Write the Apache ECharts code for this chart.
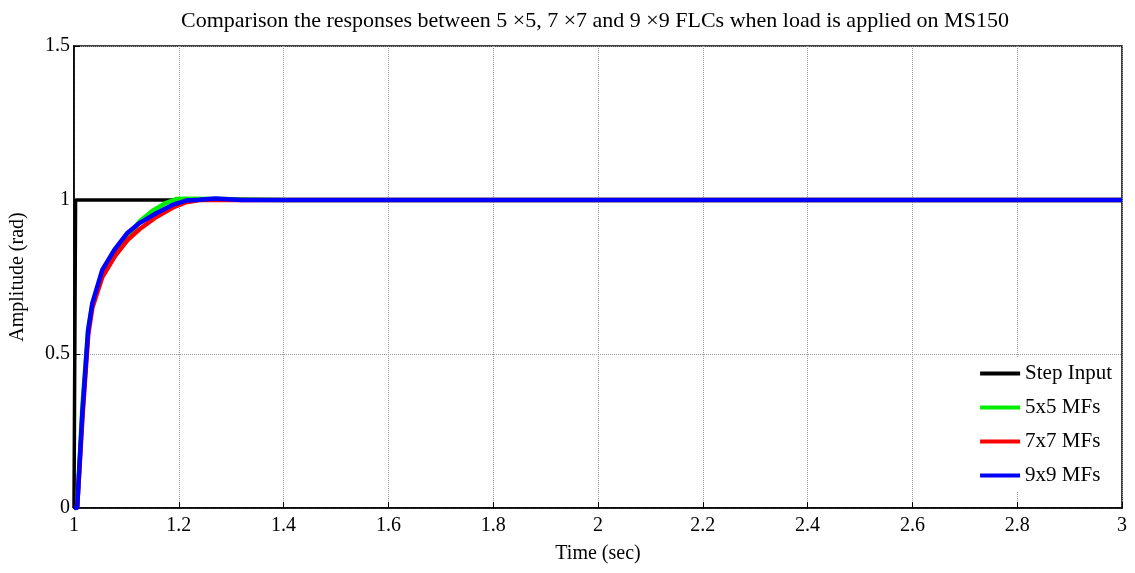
<!DOCTYPE html>
<html>
<head>
<meta charset="utf-8">
<script src="https://cdn.jsdelivr.net/npm/echarts@6/dist/echarts.min.js"></script>
<style>
  html, body { margin: 0; padding: 0; background: #fff; }
  #main { width: 1135px; height: 573px; }
</style>
</head>
<body>
<div id="main"></div>
<script>
var myChart = echarts.init(document.getElementById('main'))

// time points (sec) and responses
var stepT = [1.0, 1.003, 1.003, 3.0]
var stepY = [0, 0, 1, 1]

var t5 = [1.0, 1.006, 1.016, 1.027, 1.035, 1.054, 1.077, 1.102, 1.125, 1.150, 1.175, 1.195, 1.215, 1.27, 1.4, 3.0]
var y5 = [0, 0, 0.33, 0.58, 0.66, 0.76, 0.83, 0.88, 0.93, 0.965, 0.99, 1.003, 1.004, 1.003, 1.0, 1.0]

var t7 = [1.0, 1.006, 1.016, 1.027, 1.035, 1.054, 1.077, 1.102, 1.125, 1.157, 1.188, 1.214, 1.24, 1.3, 3.0]
var y7 = [0, 0, 0.29, 0.56, 0.65, 0.75, 0.815, 0.87, 0.905, 0.945, 0.975, 0.993, 1.0, 1.0, 1.0]

var t9 = [1.0, 1.006, 1.016, 1.027, 1.035, 1.054, 1.077, 1.102, 1.125, 1.157, 1.188, 1.214, 1.24, 1.27, 1.32, 3.0]
var y9 = [0, 0, 0.31, 0.578, 0.665, 0.773, 0.838, 0.893, 0.925, 0.957, 0.984, 0.998, 1.001, 1.005, 1.0, 1.0]

var seriesNames = ['Step Input', '5x5 MFs', '7x7 MFs', '9x9 MFs']
var seriesColors = ['#000000', '#00ee00', '#ff0000', '#0000ff']

function pairs(xs, ys) {
    return xs.map(function (x, i) { return [x, ys[i]] })
}
var allData = [pairs(stepT, stepY), pairs(t5, y5), pairs(t7, y7), pairs(t9, y9)]

var font = 'Liberation Serif'
var splitLine = { show: true, lineStyle: { color: '#999', type: 'dotted', width: 1 } }

myChart.setOption({
    animation: false,
    backgroundColor: '#fff',
    textStyle: { fontFamily: font },
    title: {
        text: 'Comparison the responses between 5 \u00d75, 7 \u00d77 and 9 \u00d79 FLCs when load is applied on MS150',
        left: 176,
        top: 5,
        textStyle: { fontFamily: font, fontSize: 22, fontWeight: 'normal', color: '#000' }
    },
    grid: { left: 74, right: 13, top: 46, bottom: 65, show: true, borderColor: '#000', borderWidth: 1.5 },
    legend: {
        orient: 'vertical',
        right: 15,
        top: 357,
        data: seriesNames,
        icon: 'rect',
        itemWidth: 40,
        itemHeight: 4,
        itemGap: 13,
        backgroundColor: '#fff',
        padding: [6, 8, 6, 6],
        textStyle: { fontFamily: font, fontSize: 21, color: '#000' }
    },
    xAxis: {
        type: 'value',
        min: 1,
        max: 3,
        interval: 0.2,
        name: 'Time (sec)',
        nameLocation: 'middle',
        nameGap: 36,
        nameTextStyle: { fontFamily: font, fontSize: 20, color: '#000' },
        axisLine: { onZero: false, lineStyle: { color: '#000', width: 1.5 } },
        axisTick: { inside: true, length: 6, lineStyle: { color: '#000' } },
        axisLabel: { fontFamily: font, fontSize: 20, color: '#000', margin: 8 },
        splitLine: splitLine
    },
    yAxis: {
        type: 'value',
        min: 0,
        max: 1.5,
        interval: 0.5,
        name: 'Amplitude (rad)',
        nameLocation: 'middle',
        nameGap: 46,
        nameTextStyle: { fontFamily: font, fontSize: 20, color: '#000' },
        axisLine: { show: true, lineStyle: { color: '#000', width: 1.5 } },
        axisTick: { show: true, inside: true, length: 6, lineStyle: { color: '#000' } },
        axisLabel: { fontFamily: font, fontSize: 20, color: '#000', margin: 4 },
        splitLine: splitLine
    },
    series: seriesNames.map(function (name, i) {
        return {
            name: name,
            type: 'line',
            data: allData[i],
            showSymbol: false,
            smooth: false,
            color: seriesColors[i],
            lineStyle: { width: i === 0 ? 3.5 : 4.5, color: seriesColors[i] },
            z: i === 0 ? 1 : 2 + i
        }
    })
})
</script>
</body>
</html>
